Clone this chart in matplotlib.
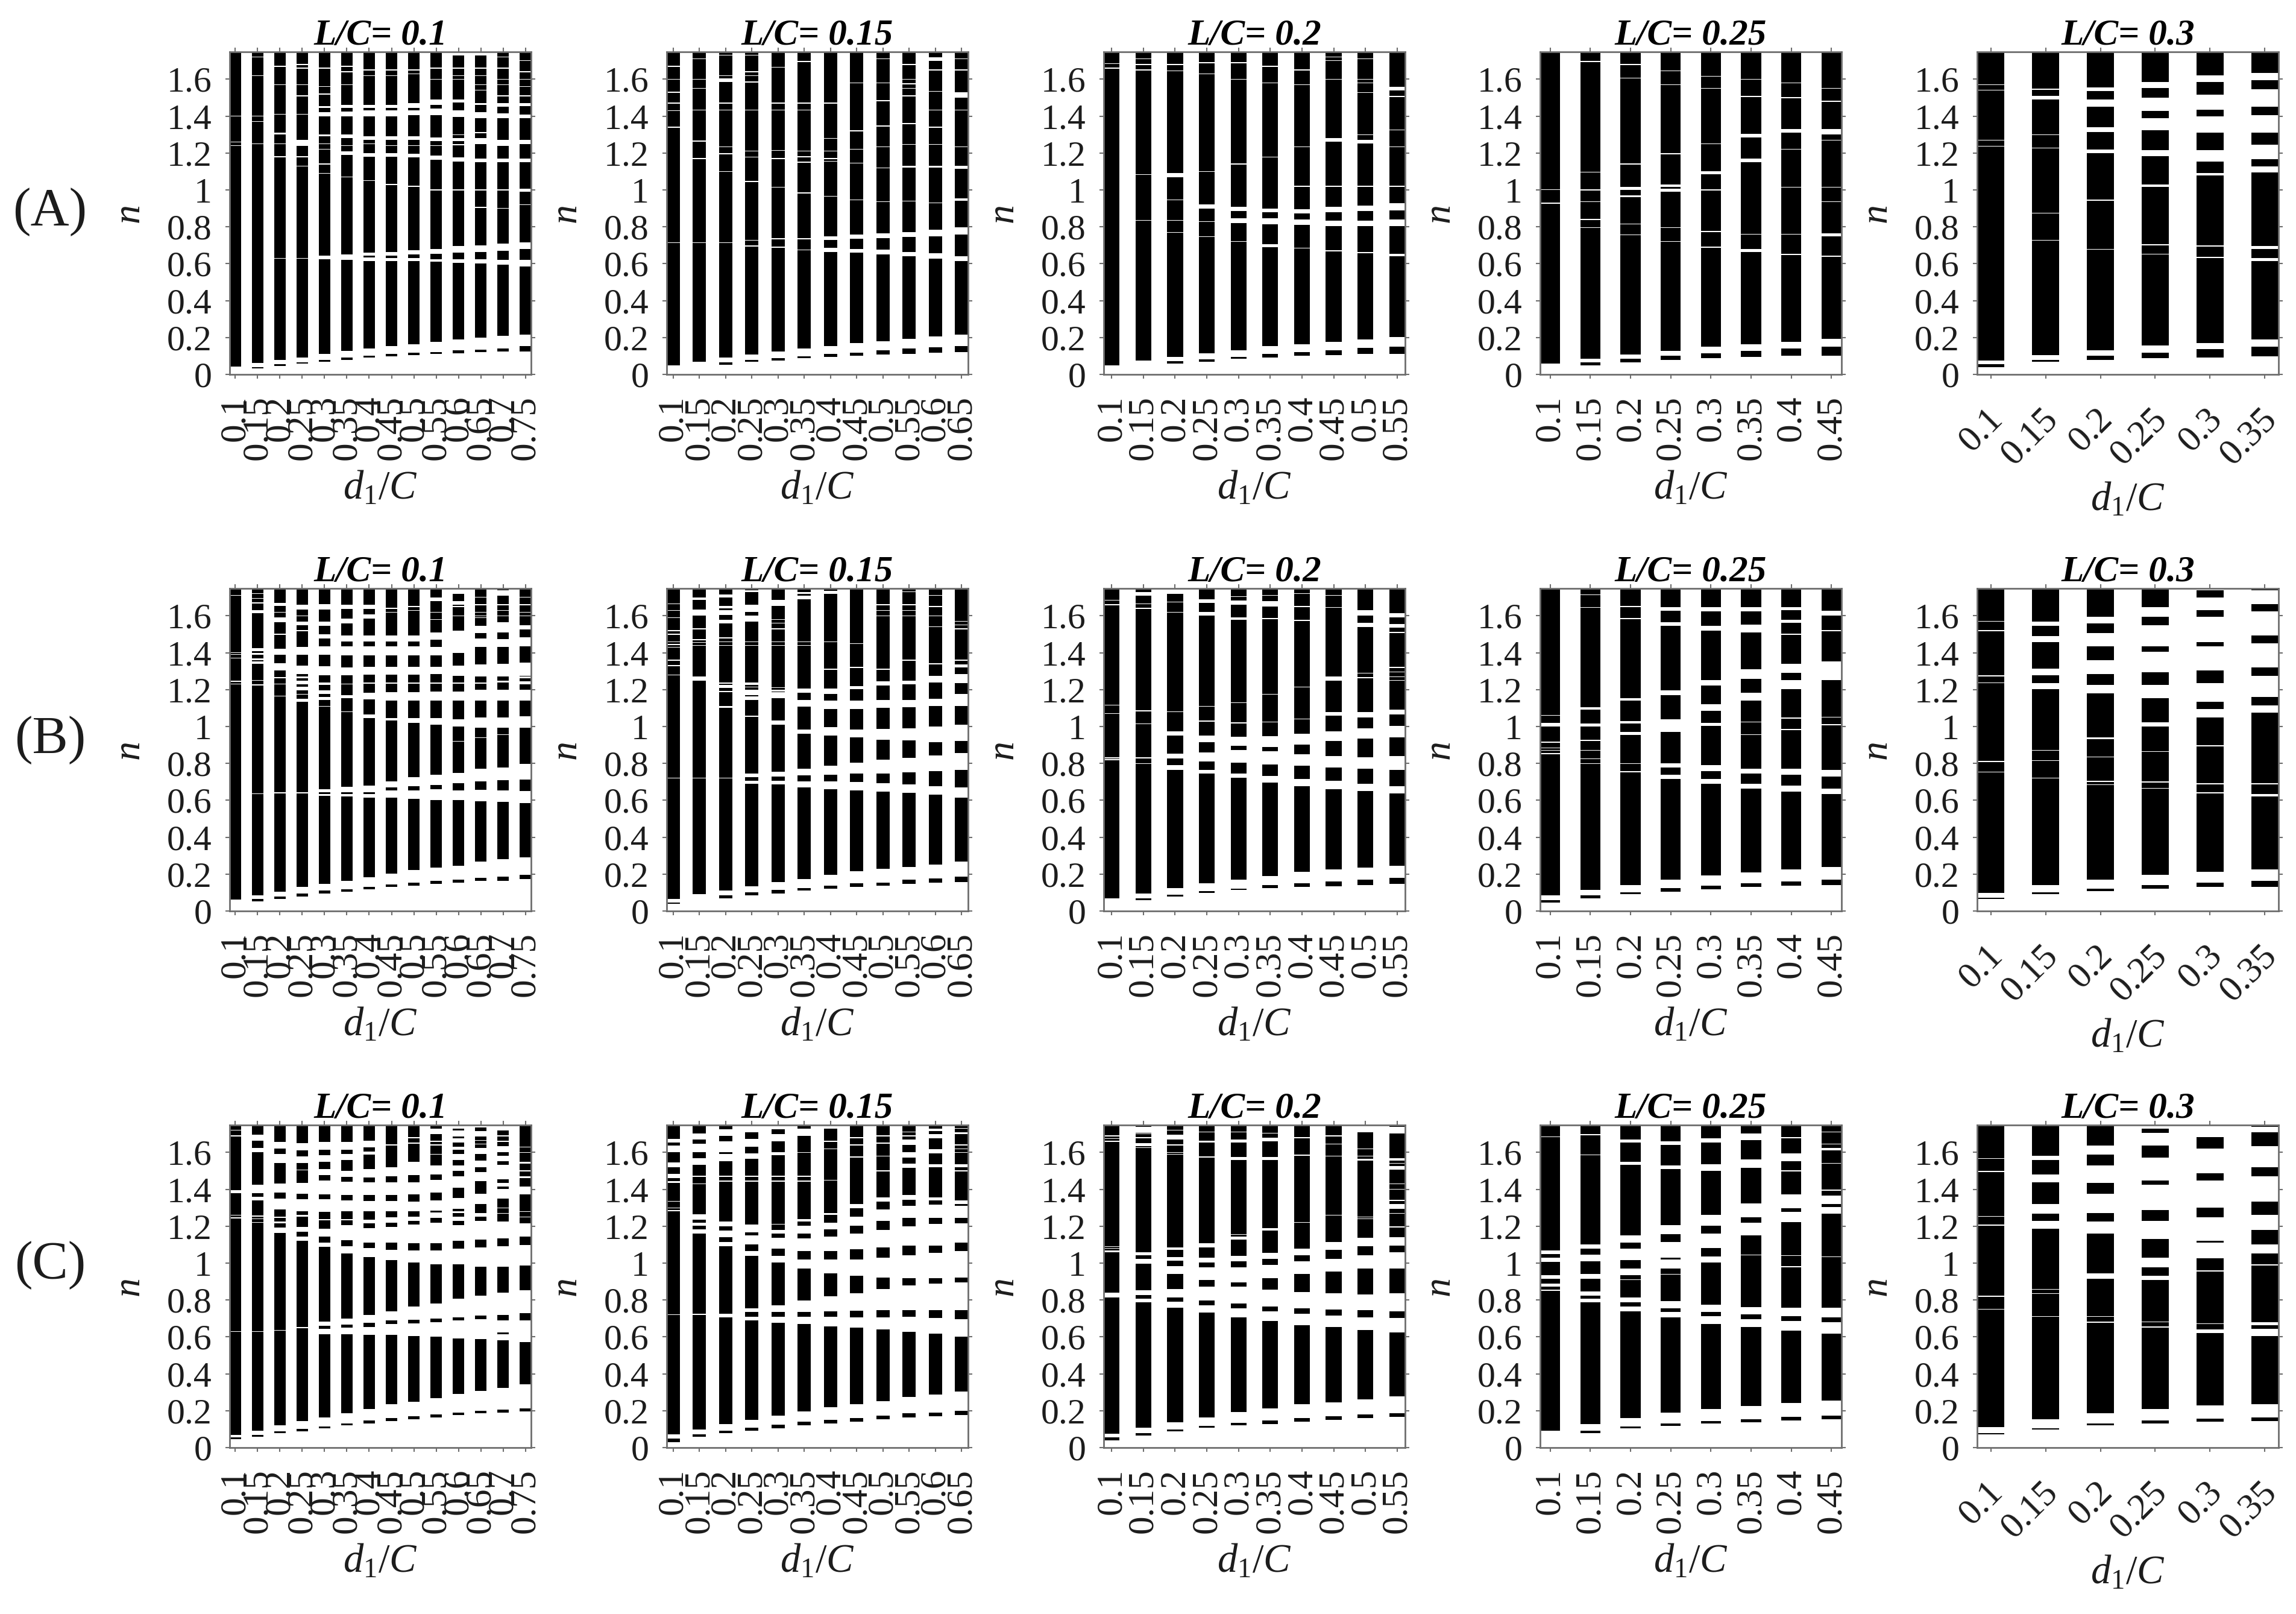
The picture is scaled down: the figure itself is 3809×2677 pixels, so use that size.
import matplotlib
matplotlib.use("Agg")
import matplotlib.pyplot as plt
from matplotlib.transforms import ScaledTranslation

plt.rcParams['font.family'] = ['Liberation Serif', 'DejaVu Serif']
plt.rcParams['mathtext.fontset'] = 'custom'
plt.rcParams['mathtext.rm'] = 'Liberation Serif'
plt.rcParams['mathtext.it'] = 'Liberation Serif:italic'
plt.rcParams['mathtext.bf'] = 'Liberation Serif:bold'

ROW_NAMES = ['(A)', '(B)', '(C)']
RATIOS = ['0.1', '0.15', '0.2', '0.25', '0.3']
D_LABELS = ['0.1', '0.15', '0.2', '0.25', '0.3', '0.35', '0.4', '0.45', '0.5',
            '0.55', '0.6', '0.65', '0.7', '0.75']
BAR_COUNTS = [14, 12, 10, 8, 6]
Y_TICKS = [0, 0.2, 0.4, 0.6, 0.8, 1, 1.2, 1.4, 1.6]
Y_LABELS = ['0', '0.2', '0.4', '0.6', '0.8', '1', '1.2', '1.4', '1.6']

# each bar: first value = lowest n of the black region,
# tuple = white gap (low, high), single value = hairline gap at that n
A1 = [
 [.042,1.24,1.26,1.40],
 [.032,(.04,.061),1.25,1.37,1.40,1.62,1.72],
 [.045,(.055,.077),.63,1.18,1.25,(1.30,1.31),1.41,1.57,1.67],
 [.06,(.066,.092),.63,1.13,1.18,(1.24,1.27),1.41,1.51,1.57,1.66,1.68],
 [.07,(.08,.11),(.625,.645),1.09,1.14,1.22,1.25,(1.29,1.30),(1.40,1.42),(1.445,1.455),1.52,1.56,1.66],
 [.08,(.09,.129),(.62,.65),1.07,(1.19,1.21),1.24,(1.28,1.30),(1.40,1.425),(1.445,1.46),1.57,1.64,1.67],
 [.092,(.102,.142),(.615,.635),(.645,.66),1.05,(1.18,1.2),1.25,(1.27,1.29),(1.4,1.43),(1.445,1.46),1.62,1.65],
 [.098,(.11,.153),(.615,.63),(.645,.665),1.03,(1.18,1.2),1.24,(1.27,1.29),(1.40,1.43),(1.445,1.46),1.62,1.65],
 [.105,(.118,.164),(.615,.63),(.65,.672),1.02,(1.175,1.195),1.24,(1.27,1.29),(1.405,1.43),(1.445,1.47),1.63,1.65],
 [.11,(.122,.175),(.61,.625),(.655,.68),1.0,(1.165,1.185),1.24,(1.265,1.285),(1.405,1.44),(1.46,1.49),1.6,1.66],
 [.115,(.13,.188),(.605,.625),(.66,.695),1.0,(1.155,1.175),1.245,(1.265,1.28),1.30,(1.395,1.43),(1.475,1.49),1.6,1.62,1.66,(1.73,1.75)],
 [.12,(.135,.199),(.6,.625),(.665,.7),.905,1.0,(1.15,1.17),(1.25,1.28),1.31,(1.39,1.42),(1.46,1.47),1.54,1.57,1.62,1.66,(1.73,1.75)],
 [.125,(.14,.208),(.595,.62),(.67,.71),.9,1.0,(1.15,1.17),(1.24,1.27),(1.39,1.415),(1.45,1.47),1.51,1.57,1.6,1.66,1.72],
 [.125,(.155,.215),(.585,.62),(.68,.715),.92,(.99,1.005),(1.15,1.17),(1.25,1.27),(1.39,1.41),(1.455,1.47),1.51,1.56,1.6,1.64,1.7],
]
A2 = [
 [.049,.715,1.34,1.43,1.47,1.53,1.6,1.67],
 [.0675,.715,1.17,1.265,1.434,1.55,1.6,1.71],
 [.052,(.066,.09),.715,1.10,1.196,1.234,1.434,1.47,(1.585,1.605),1.62,1.73],
 [.07,(.079,.109),.696,.7275,1.046,1.1775,1.21,1.434,1.585,1.62,1.64,1.73],
 [.076,(.087,.124),.69,.735,1.015,1.17,1.215,1.434,1.47,1.665],
 [.087,(.098,.14),.675,.735,.984,1.15,1.18,1.21,1.434,1.47,1.696],
 [.094,(.111,.155),(.665,.686),(.73,.75),.965,1.155,1.17,1.21,1.28,1.47],
 [.1,(.119,.171),(.66,.68),(.735,.757),.946,1.146,1.22,1.32,1.58],
 [.109,(.13,.181),(.65,.675),(.74,.765),.936,1.12,1.234,1.346,1.484,1.58,1.71],
 [.111,(.14,.1925),(.64,.665),(.745,.77),.94,(1.12,1.13),1.246,1.36,1.51,1.55,1.575,1.6,1.68],
 [.118,(.146,.206),(.6275,.656),(.749,.784),.93,(1.12,1.13),1.246,1.34,1.434,1.534,1.65,(1.7,1.72)],
 [.121,(.1525,.215),(.615,.64),(.759,.796),(.94,.955),(1.115,1.13),1.234,1.434,(1.5,1.53),1.65,1.71],
]
A3 = [
 [.049,1.66,1.685],
 [.074,.834,1.084,1.65,1.68,1.71],
 [.058,(.072,.096),.77,.834,.946,(1.07,1.09),1.645,1.68],
 [.068,(.082,.115),.746,.8275,(.9,.92),1.10,1.63,1.69],
 [.085,(.095,.131),.72,(.82,.845),(.884,.909),1.14,1.6,1.69],
 [.0925,(.111,.1525),(.69,.705),(.815,.846),(.8775,.9),1.1775,1.58,1.67],
 [.1,(.121,.165),.684,(.81,.84),(.871,.896),1.02,1.234,1.57,1.65],
 [.105,(.13,.1775),.67,(.8025,.834),(.8775,.909),1.02,(1.26,1.28),1.6,1.7,1.72],
 [.111,(.144,.19),.66,(.8025,.834),(.884,.915),1.02,(1.25,1.27),1.3,1.5275,1.58,1.6,1.71],
 [.111,(.15,.2025),(.64,.655),(.8025,.84),(.89,.9275),1.02,1.234,1.325,1.506,(1.54,1.56)],
]
A4 = [
 [.059,.9275,1.0025],
 [.05,(.065,.086),.796,.84,.936,1.0,1.096,1.696],
 [.065,(.086,.109),.756,.815,(.96,.97),(1.0,1.015),1.14,1.606,1.68],
 [.0775,(.1,.1275),.72,.796,(.99,1.005),(1.015,1.03),1.196,1.57,1.646],
 [.0875,(.115,.149),.69,.774,1.0,(1.085,1.1),1.25,1.55,1.615],
 [.096,(.1275,.165),(.665,.68),.759,(1.15,1.17),(1.285,1.305),1.506,1.6],
 [.1,(.14,.1775),.65,.759,1.015,1.22,(1.31,1.33),1.5,1.58],
 [.1025,(.15,.1925),.64,(.75,.765),.936,1.015,1.27,(1.30,1.33),1.48,1.55],
]
A5 = [
 [.04,(.055,.075),1.236,1.27,1.54,1.57],
 [.068,(.078,.106),.7275,.874,1.2275,1.30,(1.49,1.51),1.546],
 [.0775,(.1025,.131),.6775,.944,(1.20,1.22),(1.315,1.34),(1.45,1.49),(1.535,1.555)],
 [.0875,(.119,.156),.6525,.7025,(1.015,1.03),(1.184,1.215),(1.324,1.39),(1.4275,1.5),(1.5525,1.586)],
 [.0925,(.136,.169),.634,.696,(1.0775,1.09),(1.1525,1.215),(1.31,1.40),(1.434,1.515),(1.584,1.62)],
 [.099,(.149,.19),(.615,.63),(.68,.695),(1.096,1.128),(1.1675,1.2465),(1.31,1.406),(1.4525,1.546),(1.596,1.634)],
]
B1 = [
 [.061,1.23,1.245,1.37,1.39,1.40,1.71],
 [.052,(.065,.086),.636,1.225,1.25,(1.34,1.352),(1.36,1.37),(1.39,1.40),(1.41,1.425),(1.615,1.63),1.67,1.695,1.72],
 [.065,(.078,.105),.64,1.165,1.23,1.265,(1.3025,1.344),(1.39,1.42),1.5,(1.565,1.59),1.62,(1.6525,1.67)],
 [.08,(.095,.13),.64,(1.135,1.15),1.175,(1.195,1.215),(1.23,1.25),(1.26,1.27),(1.285,1.33),(1.39,1.43),1.52,(1.55,1.57),1.6,(1.635,1.66)],
 [.095,(.11,.146),(.625,.635),(.645,.66),1.11,(1.145,1.16),(1.1775,1.196),(1.224,1.24),(1.2775,1.3275),(1.39,1.434),(1.4775,1.499),(1.546,1.569),(1.634,1.665)],
 [.103,(.117,.165),(.622,.635),(.645,.672),1.08,(1.155,1.17),1.23,(1.2775,1.32),(1.386,1.434),(1.461,1.494),(1.56,1.584),(1.636,1.66)],
 [.118,(.132,.184),(.615,.635),(.645,.68),(1.046,1.065),(1.146,1.184),1.235,(1.28,1.325),(1.385,1.434),(1.461,1.494),(1.586,1.609),(1.636,1.66)],
 [.13,(.143,.2025),(.615,.6525),(.67,.7025),(1.034,1.046),(1.14,1.186),1.235,(1.28,1.325),(1.386,1.434),(1.461,1.494),1.62,1.64],
 [.136,(.152,.221),(.609,.6525),(.6775,.724),(1.02,1.046),(1.14,1.186),1.235,(1.28,1.325),(1.386,1.434),(1.461,1.494),1.63,1.65],
 [.146,(.163,.236),(.6025,.661),(.684,.74),(1.009,1.046),(1.14,1.19),1.235,(1.285,1.325),(1.386,1.43),(1.47,1.51),1.58,1.62,(1.68,1.70)],
 [.153,(.17,.246),(.6025,.655),(.694,.749),.92,(.999,1.04),(1.14,1.19),1.235,(1.275,1.33),(1.40,1.52),1.6,1.65,(1.66,1.68),(1.72,1.75)],
 [.163,(.18,.269),(.596,.656),(.7025,.771),.94,(.994,1.049),(1.14,1.2),1.235,(1.27,1.335),(1.43,1.4775),(1.506,1.545),1.59,1.6,1.62,1.66,1.7],
 [.165,(.185,.28),(.59,.6525),(.709,.7775),.955,(.994,1.049),(1.14,1.2),(1.24,1.25),(1.27,1.34),(1.43,1.475),(1.51,1.565),1.6,1.63,1.66,(1.71,1.74)],
 [.172,(.195,.29),(.584,.649),(.7125,.796),(.994,1.056),(1.14,1.2),(1.23,1.245),(1.26,1.27),(1.276,1.345),(1.435,1.484),(1.5275,1.55),1.6,1.62,1.66,1.7],
]
B2 = [
 [.04,(.046,.065),.72,1.28,1.33,1.36,1.43,1.445,1.46,1.5,1.52,1.59,1.63,1.665],
 [.09,.72,(1.25,1.27),1.44,1.455,1.47,1.53,(1.6,1.635),(1.685,1.70)],
 [.07,(.085,.1125),.72,(1.10,1.11),1.19,(1.21,1.225),1.235,1.44,1.46,1.48,(1.56,1.58),(1.605,1.63),(1.64,1.655),(1.70,1.715)],
 [.085,(.1,.134),(.69,.705),(.725,.746),1.055,(1.145,1.165),(1.17,1.2),1.215,(1.225,1.24),1.44,1.46,(1.57,1.6),(1.62,1.66),(1.73,1.74)],
 [.096,(.115,.156),(.686,.705),(.73,.756),(1.009,1.034),(1.1525,1.186),(1.19,1.2),1.21,1.44,1.46,1.53,1.56,1.58,(1.655,1.685)],
 [.11,(.125,.174),(.671,.7025),(.734,.771),(.96,.984),(1.109,1.144),(1.184,1.205),1.44,1.46,(1.69,1.71),(1.72,1.73)],
 [.122,(.138,.196),(.661,.7025),(.74,.786),(.9525,.996),(1.096,1.14),(1.1775,1.205),1.31,1.46,(1.72,1.735)],
 [.132,(.15,.215),(.6525,.699),(.746,.8025),(.94,.984),(1.096,1.14),(1.2025,1.22),1.32,1.45],
 [.138,(.155,.2275),(.646,.694),(.746,.819),(.9275,.986),(1.102,1.144),(1.221,1.246),1.31,1.6,1.63,1.66],
 [.148,(.17,.24),(.64,.686),(.7525,.831),(.925,.99),(1.106,1.144),(1.23,1.25),1.36,1.6,1.63,1.66,1.73],
 [.152,(.178,.2525),(.631,.6775),(.759,.844),(.915,.999),(1.11,1.15),(1.24,1.275),1.34,1.54,1.6,1.65,1.71],
 [.156,(.186,.269),(.615,.671),(.765,.856),(.921,1.009),(1.11,1.1775),(1.236,1.284),(1.32,1.335),1.36,1.53,1.55,1.57],
]
B3 = [
 [.0675,.82,.83,1.07,1.115,1.66,1.685],
 [.06,(.07,.096),.8,.83,1.015,1.085,1.64,1.665,(1.71,1.73)],
 [.08,(.088,.124),(.765,.79),(.8275,.8525),(.9525,.974),1.08,1.62,1.675,(1.72,1.745)],
 [.098,(.107,.149),(.744,.765),(.811,.861),(.915,.9525),1.03,1.11,(1.6,1.62),(1.67,1.69)],
 [.113,(.122,.171),(.721,.746),(.8025,.871),(.894,.944),1.02,1.13,(1.58,1.59),(1.66,1.684),1.705],
 [.124,(.14,.19),(.696,.731),(.794,.865),(.89,.949),1.025,1.175,1.585,(1.65,1.68),1.71],
 [.131,(.149,.211),(.6775,.715),(.786,.85),(.9025,.961),1.04,1.215,1.575,1.65,1.72],
 [.135,(.16,.224),(.661,.705),(.7775,.84),(.921,.974),(1.059,1.0775),(1.25,1.27),1.645,1.71],
 [.14,(.17,.234),(.649,.69),(.771,.834),(.934,.99),(1.049,1.0775),1.265,1.29,(1.54,1.561),(1.6,1.63)],
 [.146,(.18,.246),(.636,.6775),(.765,.84),(.94,1.0025),(1.065,1.09),1.25,1.27,1.295,1.32,1.51,(1.536,1.556),(1.59,1.615)],
]
B4 = [
 [.047,(.058,.086),.8525,.87,.885,.915,(1.0,1.02),1.06],
 [.07,(.085,.115),.8,.825,.87,.925,(1.0,1.015),(1.09,1.105),1.645,1.715],
 [.09,(.1,.14),.755,.8,(.955,.97),(1.015,1.03),(1.14,1.155),1.585,1.65],
 [.105,(.125,.169),(.715,.74),(.7775,.8),(.97,1.04),(1.17,1.196),(1.546,1.565),(1.6275,1.646)],
 [.119,(.136,.194),(.69,.715),(.759,.79),(1.0025,1.021),(1.084,1.121),(1.221,1.2525),(1.521,1.546),(1.624,1.646)],
 [.13,(.15,.209),(.665,.69),(.746,.771),.955,1.025,(1.14,1.184),(1.259,1.309),(1.511,1.5525),(1.624,1.646)],
 [.136,(.16,.224),(.646,.681),(.74,.771),.984,1.046,(1.2025,1.2525),(1.29,1.34),1.5,(1.561,1.578),(1.63,1.646)],
 [.14,(.17,.24),(.634,.665),(.7275,.765),1.01,1.05,(1.2525,1.3525),1.52,(1.6,1.6275)],
]
B5 = [
 [.065,(.072,.099),.7525,.81,1.236,1.274,1.52,1.57],
 [.09,(.1,.14),.72,.815,.87,(1.2025,1.234),(1.2775,1.315),(1.459,1.49),(1.546,1.5675)],
 [.108,(.122,.171),.684,.7025,.834,(.93,.94),(1.18,1.224),(1.284,1.36),(1.434,1.506),(1.56,1.596)],
 [.12,(.14,.196),.665,.699,.865,(.999,1.024),(1.1525,1.224),(1.294,1.406),(1.436,1.549),(1.594,1.646)],
 [.13,(.155,.2125),.64,.69,.896,(1.049,1.096),(1.134,1.236),(1.3025,1.434),(1.459,1.594),(1.63,1.699),(1.74,1.75)],
 [.13,(.165,.224),(.62,.635),.69,(1.074,1.115),(1.161,1.274),(1.319,1.4525),(1.494,1.624),(1.665,1.74)],
]
C1 = [
 [.045,(.055,.069),.63,1.245,1.26,(1.38,1.395),1.69,1.72],
 [.058,(.068,.091),.63,1.22,1.24,1.255,(1.34,1.36),(1.38,1.425),(1.6,1.625),(1.663,1.695)],
 [.077,(.088,.12),.635,(1.162,1.192),(1.215,1.225),(1.245,1.252),(1.29,1.35),(1.383,1.43),(1.543,1.59),(1.62,1.657)],
 [.088,(.102,.145),.65,(1.12,1.145),(1.17,1.196),(1.253,1.26),(1.282,1.345),(1.377,1.434),1.505,(1.543,1.577),(1.61,1.65)],
 [.104,(.116,.164),(.615,.645),(.66,.682),(1.088,1.11),(1.143,1.187),1.235,(1.278,1.345),(1.373,1.448),(1.476,1.51),(1.55,1.586),(1.615,1.657)],
 [.12,(.132,.187),(.615,.65),(.667,.7),(1.053,1.09),(1.124,1.206),1.235,(1.282,1.339),(1.368,1.44),(1.467,1.501),(1.56,1.592),(1.615,1.657)],
 [.132,(.146,.21),(.61,.655),(.678,.72),(1.034,1.082),(1.11,1.19),(1.215,1.234),(1.282,1.335),(1.368,1.438),(1.463,1.51),(1.587,1.606),(1.629,1.663)],
 [.144,(.16,.234),(.61,.67),(.688,.739),(1.015,1.072),(1.11,1.196),(1.219,1.248),(1.282,1.335),(1.368,1.438),(1.472,1.52),1.64],
 [.154,(.17,.25),(.606,.672),(.692,.764),(1.002,1.067),(1.108,1.21),(1.23,1.253),(1.282,1.333),(1.371,1.438),(1.478,1.549),1.65,1.68],
 [.162,(.18,.267),(.6,.68),(.7,.781),(.992,1.067),(1.108,1.219),(1.244,1.275),(1.285,1.339),(1.383,1.45),(1.482,1.53),1.59,1.64,1.66,(1.70,1.73)],
 [.175,(.19,.291),(.592,.69),(.705,.806),(.992,1.078),(1.12,1.206),(1.23,1.253),(1.27,1.282),(1.295,1.352),(1.41,1.472),(1.5,1.53),(1.56,1.59),(1.615,1.63),(1.655,1.675),(1.685,1.72),(1.73,1.75)],
 [.185,(.2,.307),(.587,.695),(.715,.825),(.981,1.086),(1.126,1.23),(1.253,1.272),(1.32,1.377),(1.444,1.495),(1.52,1.555),(1.59,1.625),1.645,1.665,(1.685,1.715),(1.735,1.75)],
 [.188,(.205,.324),(.581,.615),(.625,.69),(.72,.84),(.981,1.09),(1.135,1.225),1.27,1.3,(1.349,1.402),(1.415,1.434),(1.453,1.533),(1.552,1.581),(1.6,1.634),1.66,1.69,(1.72,1.75)],
 [.196,(.212,.343),(.573,.69),(.73,.853),(.987,1.097),(1.145,1.215),1.25,1.28,(1.371,1.415),(1.46,1.47),1.5,(1.54,1.55),1.6,1.63],
]
C2 = [
 [.03,(.05,.071),.72,1.284,1.3,1.334,(1.434,1.445),(1.46,1.484),(1.521,1.546),(1.6,1.636),(1.655,1.674)],
 [.058,(.073,.099),.722,(1.16,1.184),(1.2025,1.22),(1.235,1.265),1.43,1.47,(1.534,1.569),(1.6025,1.646),(1.669,1.7025)],
 [.077,(.09,.1275),(.705,.725),(1.09,1.115),(1.14,1.178),(1.2,1.225),1.445,1.47,(1.5525,1.592),(1.6,1.659),(1.69,1.724)],
 [.09,(.108,.15),(.69,.71),(.734,.756),(1.04,1.065),(1.1025,1.149),(1.1675,1.21),1.445,1.47,(1.565,1.596),(1.63,1.674),(1.709,1.75)],
 [.105,(.125,.174),(.6775,.709),(.734,.771),(1.0025,1.04),(1.0775,1.1375),(1.159,1.18),1.21,1.445,1.47,(1.584,1.6),(1.66,1.7),(1.724,1.75)],
 [.12,(.14,.196),(.669,.709),(.734,.796),(.969,1.019),(1.065,1.134),(1.159,1.2025),(1.225,1.24),1.445,1.47,1.6,(1.69,1.7275)],
 [.131,(.151,.2175),(.656,.709),(.74,.819),(.946,1.019),(1.065,1.1425),(1.184,1.22),(1.26,1.27),1.45,1.62,1.66,(1.73,1.75)],
 [.141,(.161,.236),(.649,.705),(.7425,.8375),(.931,1.019),(1.074,1.159),(1.2025,1.2525),(1.296,1.319),1.575,1.64,1.68],
 [.154,(.174,.2525),(.64,.705),(.746,.861),(.921,1.031),(1.084,1.181),(1.23,1.29),(1.334,1.356),1.5,1.58,1.65,1.69],
 [.165,(.185,.274),(.6275,.709),(.746,.8775),(.9175,1.044),(1.096,1.199),(1.246,1.311),(1.344,1.369),(1.515,1.54),(1.571,1.6025),(1.64,1.669),1.69,1.71],
 [.17,(.19,.2875),(.619,.7025),(.746,.89),(.9175,1.056),(1.096,1.2125),(1.246,1.3175),(1.34,1.356),(1.52,1.535),(1.596,1.619),(1.6775,1.70),(1.715,1.7275)],
 [.177,(.2,.3025),(.6025,.696),(.746,.894),(.921,1.065),(1.111,1.215),(1.246,1.31),(1.32,1.34),1.5,(1.52,1.535),1.6,1.62,1.64,(1.7,1.71),1.73],
]
C3 = [
 [.04,(.055,.074),(.815,.84),(1.06,1.07),1.08,1.09,1.66,1.675,1.69],
 [.064,(.078,.109),(.786,.806),(.8275,.8525),(.996,1.024),(1.044,1.059),1.625,(1.635,1.65),1.68,1.7,(1.705,1.74)],
 [.087,(.098,.136),(.759,.79),(.815,.859),(.94,.984),(1.0125,1.034),(1.071,1.085),1.59,1.6,1.64,(1.67,1.695),1.72],
 [.107,(.118,.165),(.731,.771),(.799,.874),(.909,.9775),(1.0025,1.03),(1.084,1.109),1.575,(1.655,1.665),1.71],
 [.12,(.135,.194),(.705,.756),(.78,.874),(.896,.9775),(1.009,1.04),(1.1275,1.145),1.155,(1.56,1.575),(1.655,1.67),1.71],
 [.128,(.148,.211),(.686,.74),(.765,.855),(.9175,.99),(1.024,1.056),(1.1775,1.19),(1.56,1.575),(1.66,1.68),1.705],
 [.14,(.16,.234),(.665,.724),(.756,.844),(.94,1.009),(1.044,1.0775),1.22,1.585,1.68],
 [.15,(.17,.244),(.655,.715),(.749,.8375),(.955,1.024),(1.071,1.115),1.26,1.58,1.645,1.69],
 [.159,(.179,.261),(.6375,.706),(.744,.83),(.969,1.044),(1.09,1.136),1.24,1.25,(1.555,1.565),1.58,1.62,(1.71,1.75)],
 [.1675,(.1875,.2775),(.625,.7025),(.74,.836),(.971,1.059),(1.096,1.14),1.196,1.27,(1.295,1.32),1.34,1.4,1.43,(1.506,1.5275),1.54,(1.556,1.569),(1.7025,1.74)],
]
C4 = [
 [.0925,.8525,(.871,.8875),(.915,.934),(1.006,1.031),(1.049,1.069),1.684],
 [.08,(.09,.1275),(.786,.806),(.824,.846),(.915,.94),(1.009,1.046),(1.0775,1.1025),1.586,1.696],
 [.103,(.116,.161),(.74,.765),(.786,.815),.91,(.934,.969),(1.015,1.0775),(1.111,1.149),(1.534,1.549),(1.652,1.669)],
 [.117,(.131,.19),(.705,.736),(.756,.794),.94,(.969,1.02),(1.028,1.115),(1.156,1.206),(1.511,1.53),(1.64,1.661)],
 [.13,(.145,.209),(.671,.7125),(.734,.775),(1.0025,1.036),(1.081,1.159),(1.2025,1.261),(1.499,1.536),(1.6525,1.6775)],
 [.138,(.154,.225),(.6525,.696),(.721,.7625),1.045,(1.149,1.219),(1.249,1.324),(1.515,1.561),(1.6675,1.7025)],
 [.148,(.168,.2425),(.634,.6875),(.7125,.759),.98,1.04,(1.221,1.2775),(1.296,1.371),1.5,(1.5525,1.594),1.68],
 [.152,(.172,.255),(.619,.681),(.705,.759),1.035,(1.269,1.3025),(1.321,1.365),1.396,1.54,(1.61,1.624),1.646,1.71],
]
C5 = [
 [.073,(.079,.11),.749,.82,1.206,1.253,1.497,1.568],
 [.097,(.103,.152),.71,.835,.857,(1.187,1.23),(1.267,1.32),(1.438,1.482),(1.558,1.581)],
 [.12,(.132,.187),.68,.71,(.914,.943),(1.16,1.225),(1.272,1.375),(1.434,1.53),(1.587,1.638)],
 [.132,(.146,.21),.653,.682,(.907,.93),(.977,1.029),(1.13,1.23),(1.288,1.425),(1.448,1.573),(1.638,1.705),(1.73,1.75)],
 [.142,(.156,.229),(.62,.64),.672,.958,(1.025,1.11),(1.12,1.248),(1.301,1.448),(1.486,1.621),(1.682,1.75)],
 [.144,(.162,.234),(.606,.645),(.665,.68),.99,(1.053,1.1),(1.18,1.263),(1.333,1.472),(1.52,1.634),(1.71,1.74)],
]
PANELS = [[A1, A2, A3, A4, A5], [B1, B2, B3, B4, B5], [C1, C2, C3, C4, C5]]

W, H = 3809, 2677
AX_LEFT = [381, 1106, 1831, 2555, 3280]
AX_TOP = [85.5, 975.5, 1865.5]
ROW_Y = [352, 1228, 2099]
AX_W, AX_H = 500, 535.5
Y_MAX = 1.75
HAIR = 0.0045
LINE = '#6e6e6e'
TEXT = '#1c1c1c'


def black_bands(bar):
    gaps = []
    for g in bar[1:]:
        if isinstance(g, tuple):
            gaps.append(g)
        else:
            gaps.append((g - HAIR / 2, g + HAIR / 2))
    gaps.sort()
    bands, low = [], bar[0]
    for lo, hi in gaps:
        if lo > low:
            bands.append((low, lo))
        low = max(low, hi)
    if low < Y_MAX:
        bands.append((low, Y_MAX))
    return bands


fig = plt.figure(figsize=(W / 100, H / 100), dpi=100, facecolor='white')
for r, row in enumerate(PANELS):
    fig.text(83 / W, 1 - ROW_Y[r] / H, ROW_NAMES[r], fontsize=64, color=TEXT,
             ha='center', va='center')
    for c, bars in enumerate(row):
        ax = fig.add_axes([AX_LEFT[c] / W, 1 - (AX_TOP[r] + AX_H) / H, AX_W / W, AX_H / H])
        n = BAR_COUNTS[c]
        for i, bar in enumerate(bars):
            bands = black_bands(bar)
            ax.bar([i + 1] * len(bands), [b[1] - b[0] for b in bands],
                   bottom=[b[0] for b in bands], width=0.5, color='black', linewidth=0)
        ax.set_xlim(0.75, n + 0.25)
        ax.set_ylim(0, Y_MAX)
        ax.set_yticks(Y_TICKS)
        ax.set_yticklabels(Y_LABELS, fontsize=43, color=TEXT)
        ax.set_xticks(range(1, n + 1))
        ax.tick_params(axis='both', direction='out', length=5, width=1.5, color=LINE,
                       top=True, right=True)
        ax.tick_params(axis='y', pad=16)
        if c == 4:
            ax.tick_params(axis='x', pad=28)
            ax.set_xticklabels(D_LABELS[:n], fontsize=44, color=TEXT, rotation=45,
                               ha='right', va='top')
            shift = ScaledTranslation(31 / 100, 0, fig.dpi_scale_trans)
            for t in ax.get_xticklabels():
                t.set_transform(t.get_transform() + shift)
        else:
            ax.tick_params(axis='x', pad=20)
            ax.set_xticklabels(D_LABELS[:n], fontsize=44, color=TEXT, rotation=90,
                               ha='center', va='top')
        for s in ax.spines.values():
            s.set_color(LINE)
            s.set_linewidth(2.0)
        ax.set_title('L/C= ' + RATIOS[c], fontsize=44, fontweight='bold', style='italic',
                     pad=8, color='black')
        ax.set_ylabel('n', fontsize=46, style='italic', color=TEXT)
        ax.yaxis.set_label_coords(-0.275, 0.5)
        ax.set_xlabel(r'$d_{\mathit{1}}/C$', fontsize=48, color=TEXT)
        ax.xaxis.set_label_coords(0.5, -0.39 if c == 4 else -0.355)
        ax.xaxis.label.set_va('center')

fig.savefig('out.png', dpi=100, facecolor='white')
